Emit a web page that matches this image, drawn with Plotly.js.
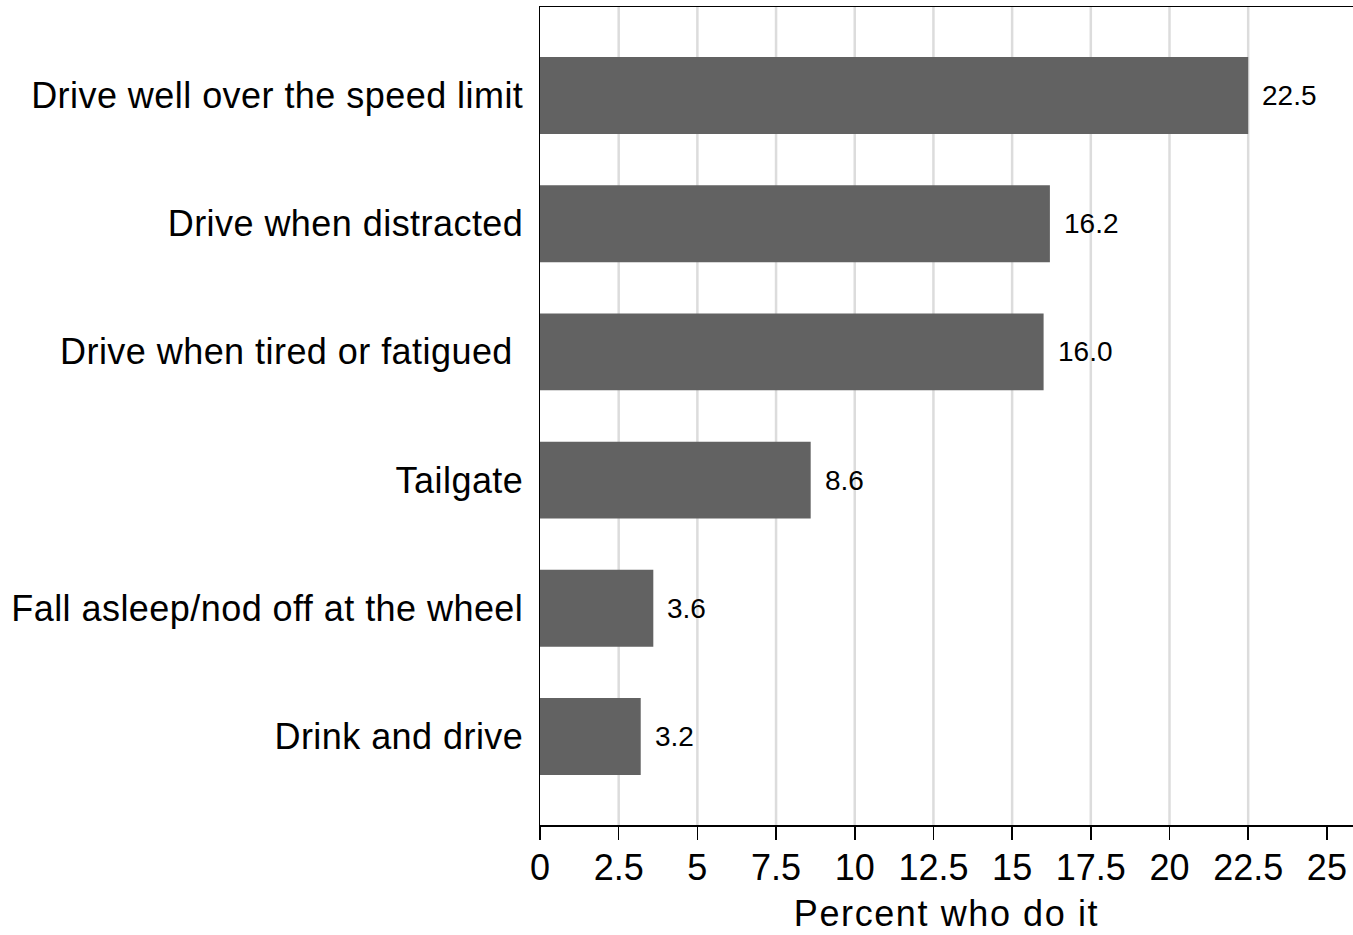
<!DOCTYPE html>
<html>
<head>
<meta charset="utf-8">
<script src="https://cdn.plot.ly/plotly-3.0.1.min.js"></script>
<style>
html,body{margin:0;padding:0;background:#fff;}
#chart{width:1353px;height:935px;}
#chart .yaxislayer-above .ytick text{letter-spacing:0.45px;}
#chart .g-xtitle text{letter-spacing:1.6px;}
</style>
</head>
<body>
<div id="chart"></div>
<script>
// Categories top to bottom
const categories = [
  "Drive well over the speed limit",
  "Drive when distracted",
  "Drive when tired or fatigued\u00A0",
  "Tailgate",
  "Fall asleep/nod off at the wheel",
  "Drink and drive"
];
const values = [22.5, 16.2, 16.0, 8.6, 3.6, 3.2];
const xTickVals = [0, 2.5, 5, 7.5, 10, 12.5, 15, 17.5, 20, 22.5, 25];
const xTickText = ["0", "2.5", "5", "7.5", "10", "12.5", "15", "17.5", "20", "22.5", "25"];
const gridVals = [2.5, 5, 7.5, 10, 12.5, 15, 17.5, 20, 22.5];
const xTitle = "Percent who do it";

const FONT = "'Liberation Sans', Arial, Helvetica, sans-serif";

const trace = {
  type: 'bar',
  orientation: 'h',
  x: values,
  y: categories,
  marker: {color: '#626262', line: {width: 0}},
  hoverinfo: 'none'
};

const annotations = values.map((v, i) => ({
  x: v, y: categories[i], xref: 'x', yref: 'y',
  text: v.toFixed(1), showarrow: false,
  xanchor: 'left', yanchor: 'middle', xshift: 12,
  font: {family: FONT, size: 28, color: '#000'}
}));

const shapes = gridVals.map(g => ({
  type: 'line', xref: 'x', yref: 'paper', x0: g, x1: g, y0: 0, y1: 1,
  line: {color: '#dcdcdc', width: 2.5}, layer: 'below'
}));

const layout = {
  width: 1353, height: 935,
  margin: {l: 540, r: 0, t: 7, b: 110},
  paper_bgcolor: '#fff', plot_bgcolor: '#fff',
  bargap: 0.4,
  showlegend: false,
  font: {family: FONT, color: '#000'},
  xaxis: {
    range: [0, 25.83],
    tickmode: 'array', tickvals: xTickVals, ticktext: xTickText,
    showgrid: false, zeroline: false,
    showline: true, linecolor: '#000', linewidth: 1.5, mirror: true,
    ticks: 'outside', ticklen: 13, tickwidth: 1.5, tickcolor: '#000',
    ticklabelstandoff: -3,
    tickfont: {family: FONT, size: 36, color: '#000'},
    title: {text: xTitle, font: {family: FONT, size: 36, color: '#000'}, standoff: 14},
    automargin: false
  },
  yaxis: {
    type: 'category',
    categoryorder: 'array', categoryarray: categories,
    range: [5.69, -0.69],
    showgrid: false, zeroline: false,
    showline: true, linecolor: '#000', linewidth: 1.5,
    ticks: '', ticklabelstandoff: 8,
    tickfont: {family: FONT, size: 36, color: '#000'},
    automargin: false
  },
  annotations: annotations,
  shapes: shapes
};

Plotly.newPlot('chart', [trace], layout, {displayModeBar: false, staticPlot: true});
</script>
</body>
</html>
